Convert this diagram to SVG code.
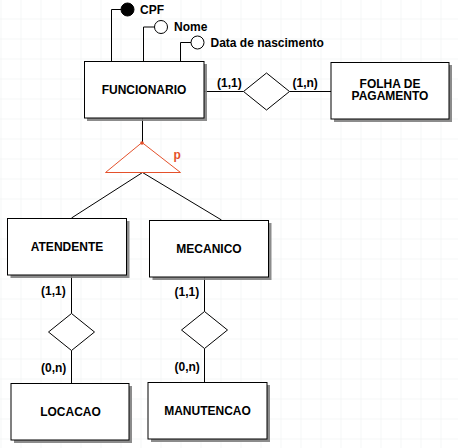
<svg xmlns="http://www.w3.org/2000/svg" width="458" height="448" viewBox="0 0 458 448">
<defs>
<pattern id="grid" x="0.5" y="-1.5" width="20" height="20" patternUnits="userSpaceOnUse">
<path d="M0,0 H20 M0,0 V20" fill="none" stroke="#ebeff0" stroke-width="1"/>
</pattern>
<style>
.ent{fill:#fff;stroke:#000;stroke-width:1}
.sh{fill:#808080;opacity:0.9}
.ln{fill:none;stroke:#000;stroke-width:1}
.rel{fill:#fff;stroke:#000;stroke-width:1}
.t{font-family:"Liberation Sans",Arial,sans-serif;font-size:12px;font-weight:bold;fill:#000}
.c{text-anchor:middle}
.red{stroke:#e4512b}
</style>
</defs>
<rect width="458" height="448" fill="#fff"/>
<rect width="458" height="448" fill="url(#grid)"/>

<g id="connectors">
<path class="ln" d="M111.5,61 V9.5 H121"/>
<path class="ln" d="M143.5,61 V27 H154.5"/>
<path class="ln" d="M180.5,61 V42.5 H191"/>
<path class="ln" d="M204,91.5 H243.5 M289.5,91.5 H331"/>
<path class="ln" d="M142.5,118 V142.5"/>
<path class="ln" d="M142.5,172.5 L71.5,218 M142.5,172.5 L221.5,220"/>
<path class="ln" d="M71.5,275 V313.5 M71.5,350.5 V383"/>
<path class="ln" d="M204.5,277 V311.5 M204.5,348.5 V382"/>
<text class="t" x="217" y="87">(1,1)</text>
<text class="t" x="292.5" y="87">(1,n)</text>
<text class="t" x="41" y="294.5">(1,1)</text>
<text class="t" x="41" y="371.5">(0,n)</text>
<text class="t" x="174.5" y="295.5">(1,1)</text>
<text class="t" x="174.5" y="370.5">(0,n)</text>
</g>

<g id="attr-cpf">
<circle cx="127.5" cy="9.5" r="6.5" fill="#000" stroke="#000"/>
<text class="t" x="140" y="13.8">CPF</text>
</g>
<g id="attr-nome">
<circle cx="161" cy="27" r="6.5" fill="#fff" stroke="#000"/>
<text class="t" x="174" y="31.3">Nome</text>
</g>
<g id="attr-data">
<circle cx="197.5" cy="42.5" r="6.5" fill="#fff" stroke="#000"/>
<text class="t" x="210.5" y="46.8">Data de nascimento</text>
</g>

<g id="funcionario">
<rect class="sh" x="87" y="64" width="120" height="57"/>
<rect class="ent" x="84.5" y="61.5" width="119.5" height="56.5"/>
<text class="t c" x="144" y="94">FUNCIONARIO</text>
</g>

<g id="rel-folha">
<polygon class="rel" points="243.5,91.5 266.5,73 289.5,91.5 266.5,110"/>
</g>

<g id="folha">
<rect class="sh" x="334" y="65" width="118" height="57"/>
<rect class="ent" x="331" y="62.5" width="118" height="56.5"/>
<text class="t c" x="390" y="87.5">FOLHA DE</text>
<text class="t c" x="390" y="100">PAGAMENTO</text>
</g>

<g id="especializacao">
<polygon points="142,142.5 105.5,172.5 180.5,172.5" fill="#fff" stroke="#e4512b" stroke-width="1"/>
<circle cx="142" cy="143" r="1.8" fill="#e4512b"/>
<text class="t" x="173.5" y="159" style="fill:#e4512b">p</text>
</g>

<g id="atendente">
<rect class="sh" x="10.5" y="221" width="119" height="57"/>
<rect class="ent" x="7.5" y="218.5" width="119" height="56.5"/>
<text class="t c" x="67" y="251">ATENDENTE</text>
</g>

<g id="mecanico">
<rect class="sh" x="152.5" y="223" width="119" height="57"/>
<rect class="ent" x="149.5" y="220.5" width="119" height="56.5"/>
<text class="t c" x="209" y="252.8">MECANICO</text>
</g>

<g id="rel-locacao">
<polygon class="rel" points="48.5,332 71.5,313.5 94.5,332 71.5,350.5"/>
</g>
<g id="rel-manutencao">
<polygon class="rel" points="181.5,330 204.5,311.5 227.5,330 204.5,348.5"/>
</g>

<g id="locacao">
<rect class="sh" x="14" y="386" width="118" height="57"/>
<rect class="ent" x="11" y="383.5" width="118" height="56.5"/>
<text class="t c" x="70.5" y="415.5">LOCACAO</text>
</g>

<g id="manutencao">
<rect class="sh" x="151" y="385" width="119" height="57"/>
<rect class="ent" x="148" y="382.5" width="119" height="56.5"/>
<text class="t c" x="207.5" y="414.5">MANUTENCAO</text>
</g>
</svg>
